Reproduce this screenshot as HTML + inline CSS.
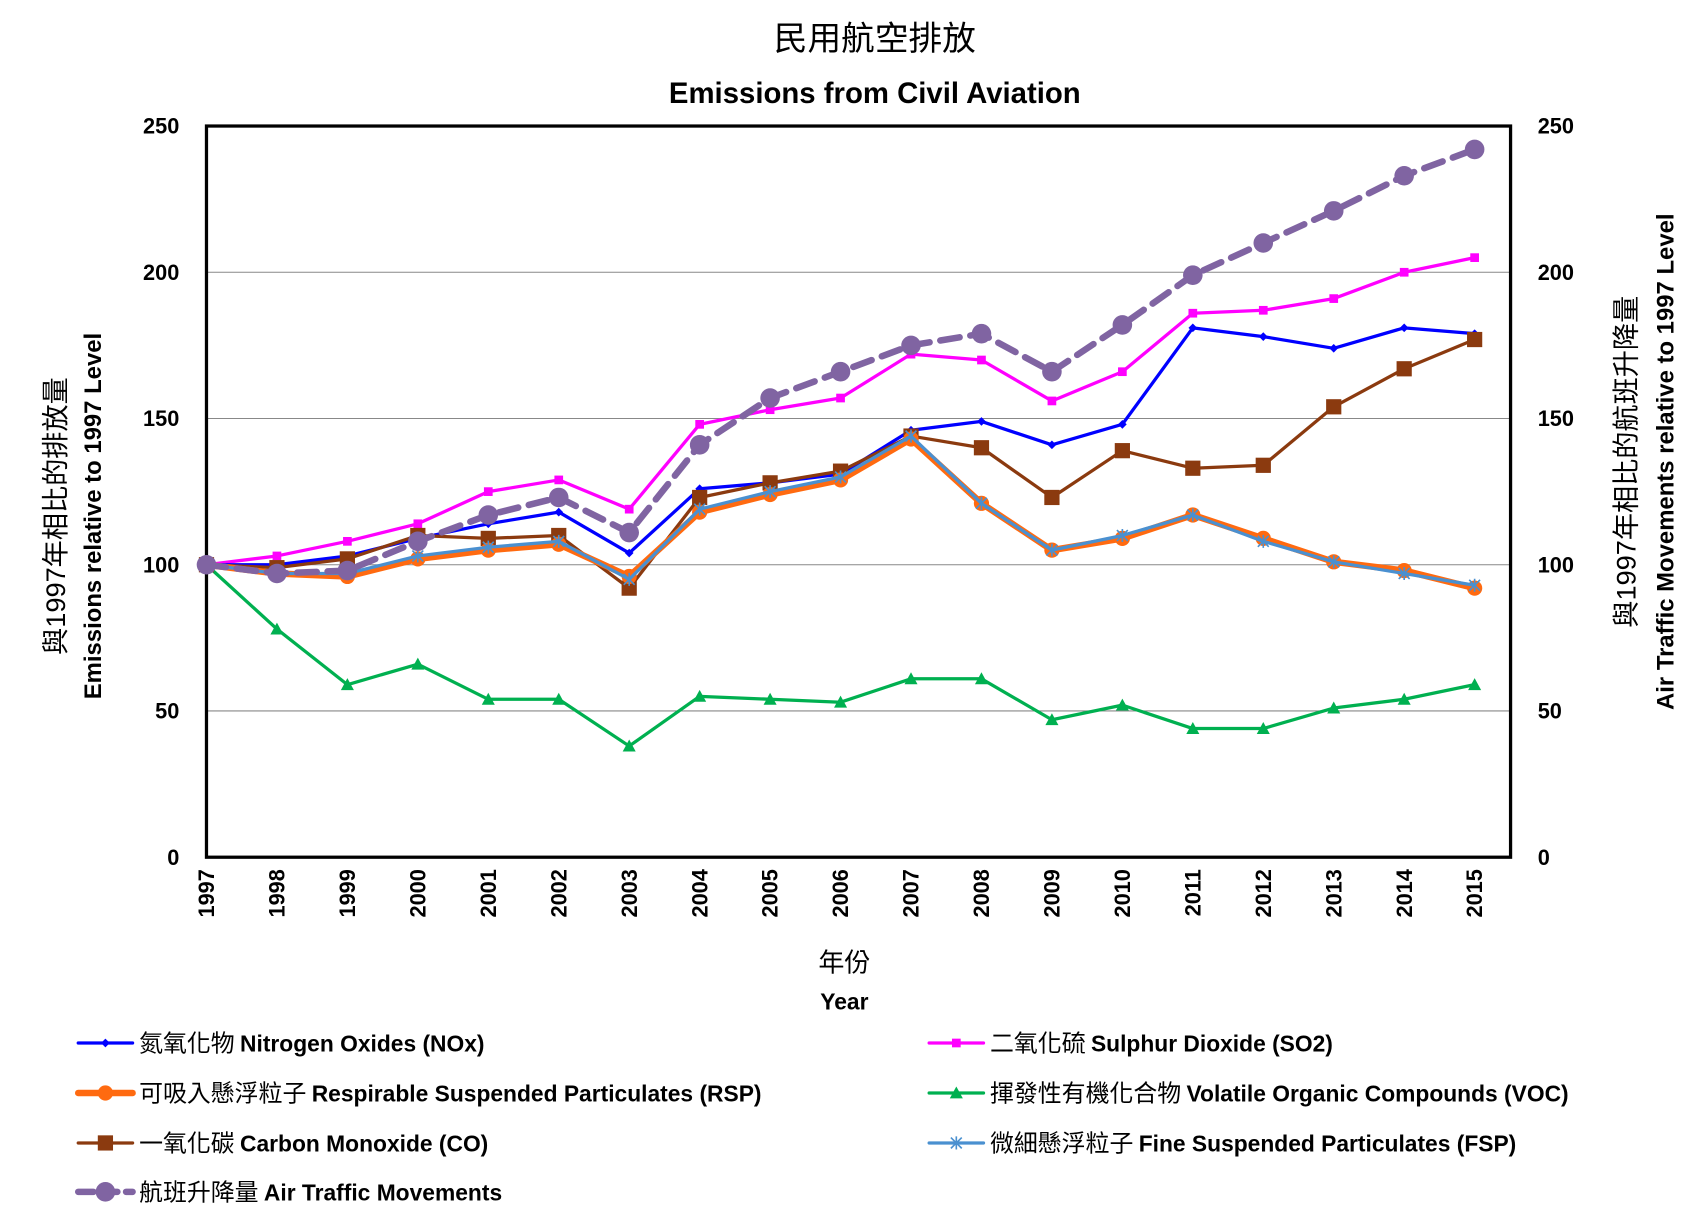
<!DOCTYPE html>
<html><head><meta charset="utf-8"><style>
html,body{margin:0;padding:0;background:#fff;}
svg{display:block;}
text{font-family:"Liberation Sans","Noto Sans CJK TC",sans-serif;}
.b{font-weight:bold;}
</style></head><body>
<svg id="s" width="1704" height="1219" viewBox="0 0 1568 1122" preserveAspectRatio="none" xmlns="http://www.w3.org/2000/svg">
<text x="805" y="46" text-anchor="middle" font-size="31" font-family="Noto Sans CJK TC">民用航空排放</text>
<text x="805" y="95" text-anchor="middle" font-size="27" class="b">Emissions from Civil Aviation</text>
<g id="grid" stroke="#888" stroke-width="1"></g>
<rect x="190" y="116" width="1200" height="673" fill="none" stroke="#000" stroke-width="3"/>
<g id="ticks" font-size="20" class="b"></g>
<g id="series"></g>
<text transform="translate(60,475) rotate(-90)" text-anchor="middle" font-size="25" font-family="Noto Sans CJK TC">與1997年相比的排放量</text>
<text transform="translate(93,475) rotate(-90)" text-anchor="middle" font-size="22" class="b">Emissions relative to 1997 Level</text>
<text transform="translate(1505,425) rotate(-90)" text-anchor="middle" font-size="25" font-family="Noto Sans CJK TC">與1997年相比的航班升降量</text>
<text transform="translate(1540,425) rotate(-90)" text-anchor="middle" font-size="22" class="b">Air Traffic Movements relative to 1997 Level</text>
<text x="777" y="894" text-anchor="middle" font-size="24" font-family="Noto Sans CJK TC">年份</text>
<text x="777" y="929" text-anchor="middle" font-size="21" class="b">Year</text>
<g id="legend" font-size="21"></g>
</svg>
<script>
var ns="http://www.w3.org/2000/svg";
function el(p,t,a,txt){var e=document.createElementNS(ns,t);for(var k in a)e.setAttribute(k,a[k]);if(txt!=null)e.textContent=txt;document.getElementById(p).appendChild(e);return e;}
function X(i){return 190+64.83*i;}
function Y(v){return 789-v*2.692;}
for(var v=0;v<=250;v+=50){
 if(v>0&&v<250)el("grid","line",{x1:190,x2:1390,y1:Y(v),y2:Y(v)});
 el("ticks","text",{x:165,y:Y(v)+7,"text-anchor":"end"},v);
 el("ticks","text",{x:1415,y:Y(v)+7},v);
}
for(var i=0;i<19;i++){
 el("ticks","text",{transform:"translate("+(X(i)+7)+",800) rotate(-90)","text-anchor":"end"},1997+i);
}
var S=[
{c:"#00B050",w:3,m:"tri",d:[100,78,59,66,54,54,38,55,54,53,61,61,47,52,44,44,51,54,59],n:"揮發性有機化合物",e:"Volatile Organic Compounds (VOC)"},
{c:"#FF00FF",w:3,m:"sq",s:4,d:[100,103,108,114,125,129,119,148,153,157,172,170,156,166,186,187,191,200,205],n:"二氧化硫",e:"Sulphur Dioxide (SO2)"},
{c:"#0000FF",w:3,m:"dia",d:[100,100,103,109,114,118,104,126,128,131,146,149,141,148,181,178,174,181,179],n:"氮氧化物",e:"Nitrogen Oxides (NOx)"},
{c:"#8B3A0F",w:3,m:"sq",s:7,d:[100,99,102,110,109,110,92,123,128,132,144,140,123,139,133,134,154,167,177],n:"一氧化碳",e:"Carbon Monoxide (CO)"},
{c:"#FF6A10",w:6,m:"circ",r:7,d:[100,97,96,102,105,107,96,118,124,129,143,121,105,109,117,109,101,98,92],n:"可吸入懸浮粒子",e:"Respirable Suspended Particulates (RSP)"},
{c:"#4A90D0",w:3,m:"star",d:[100,97,97,103,106,108,95,119,125,130,144,121,105,110,117,108,101,97,93],n:"微細懸浮粒子",e:"Fine Suspended Particulates (FSP)"},
{c:"#8064A2",w:6,m:"circ",r:9,dash:"18,10",d:[100,97,98,108,117,123,111,141,157,166,175,179,166,182,199,210,221,233,242],n:"航班升降量",e:"Air Traffic Movements"}
];
function mark(g,s,x,y){
 if(s.m=="tri")el(g,"polygon",{points:(x)+","+(y-6)+" "+(x-6)+","+(y+5)+" "+(x+6)+","+(y+5),fill:s.c});
 if(s.m=="sq")el(g,"rect",{x:x-s.s,y:y-s.s,width:2*s.s,height:2*s.s,fill:s.c});
 if(s.m=="dia")el(g,"polygon",{points:x+","+(y-4)+" "+(x+4)+","+y+" "+x+","+(y+4)+" "+(x-4)+","+y,fill:s.c});
 if(s.m=="circ")el(g,"circle",{cx:x,cy:y,r:s.r,fill:s.c});
 if(s.m=="star"){el(g,"path",{d:"M"+(x-5)+" "+(y-5)+"L"+(x+5)+" "+(y+5)+"M"+(x-5)+" "+(y+5)+"L"+(x+5)+" "+(y-5)+"M"+x+" "+(y-6)+"V"+(y+6),stroke:s.c,"stroke-width":1.5});}
}
S.forEach(function(s){
 var p=s.d.map(function(v,i){return X(i)+","+Y(v)}).join(" ");
 var a={points:p,fill:"none",stroke:s.c,"stroke-width":s.w,"stroke-linejoin":"round","stroke-linecap":"round"};
 if(s.dash)a["stroke-dasharray"]=s.dash;
 el("series","polyline",a);
 s.d.forEach(function(v,i){mark("series",s,X(i),Y(v));});
});
var L=[[2,72,960],[1,855,960],[4,72,1006],[0,855,1006],[3,72,1052],[5,855,1052],[6,72,1097]];
L.forEach(function(l){
 var s=S[l[0]],x=l[1],y=l[2];
 var a={x1:x,x2:x+50,y1:y,y2:y,stroke:s.c,"stroke-width":s.w,"stroke-linecap":"round"};
 if(s.dash)a["stroke-dasharray"]="14,8";
 el("legend","line",a);
 mark("legend",s,x+25,y);
 var t=el("legend","text",{x:x+56,y:y+8});
 var t1=document.createElementNS(ns,"tspan");t1.setAttribute("font-family","Noto Sans CJK TC");t1.setAttribute("font-size","22");t1.textContent=s.n+" ";t.appendChild(t1);
 var t2=document.createElementNS(ns,"tspan");t2.setAttribute("font-weight","bold");t2.textContent=s.e;t.appendChild(t2);
});
</script>
</body></html>
